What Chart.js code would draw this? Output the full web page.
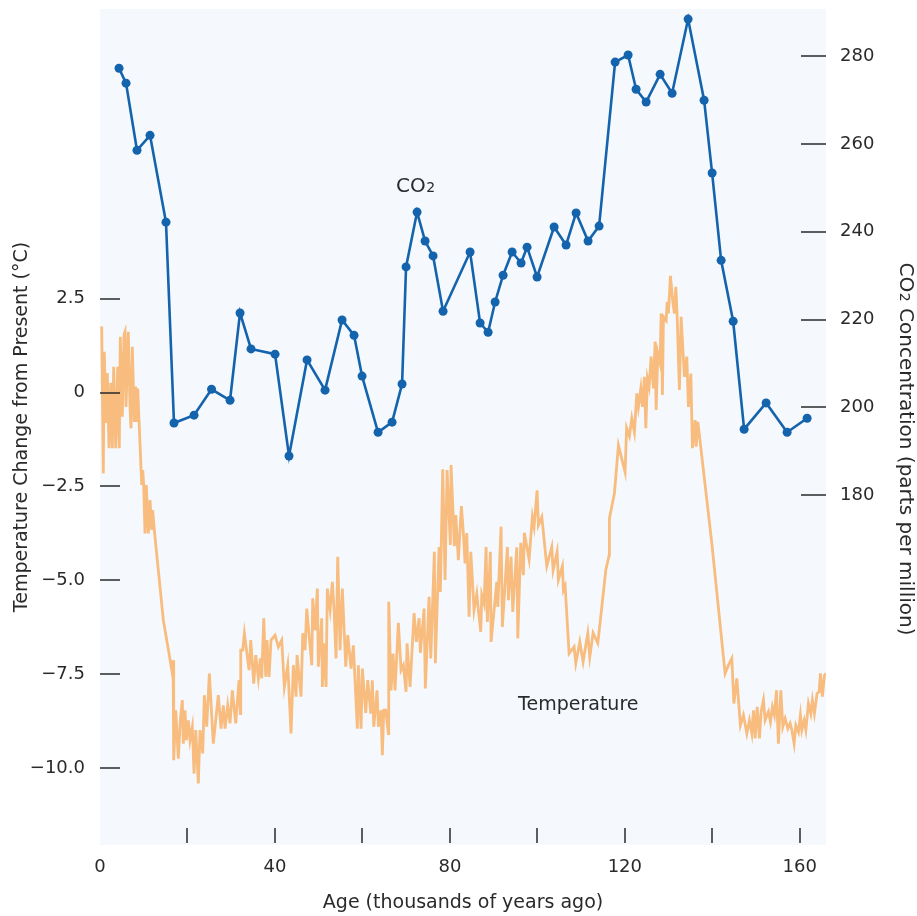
<!DOCTYPE html>
<html>
<head>
<meta charset="utf-8">
<title>Temperature and CO2</title>
<script src="https://cdn.jsdelivr.net/npm/chart.js@4.4.1/dist/chart.umd.min.js"></script>
<style>
  html, body { margin: 0; padding: 0; background: #fff; }
  #wrap { width: 917px; height: 916px; position: relative; }
</style>
</head>
<body>
<div id="wrap"><canvas id="chart"></canvas></div>
<script>
// Temperature and CO2 over the last ~165 thousand years
// - temperature (left axis, °C from present) as a thin orange line
// - CO2 (right axis, ppm) as a blue line with dots

// =========================
// Data
// temperature record: age (kyr ago) and change from present (°C)
const tempAge = [
  0.39, 0.75, 0.98, 1.37, 1.67, 2.06, 2.45, 2.81, 3.13, 3.59, 4.05, 4.41, 4.64, 5.10, 5.49, 5.72, 5.95, 6.47, 6.86, 7.09,
  7.39, 7.84, 8.16, 8.46, 8.62, 9.54, 9.77, 9.99, 10.29, 10.59, 11.05, 11.44, 11.82, 12.05, 12.42, 14.48, 15.78, 16.40, 16.70, 16.85,
  17.31, 17.91, 18.36, 18.82, 19.05, 19.44, 19.74, 20.19, 20.58, 21.11, 21.50, 21.89, 22.48, 22.87, 23.49, 23.85, 24.40, 25.00, 25.91, 27.05,
  27.67, 28.20, 28.59, 29.20, 29.73, 30.26, 31.03, 31.79, 32.09, 32.18, 32.64, 33.01, 34.08, 34.47, 35.15, 35.61, 36.20, 36.66, 36.98, 37.44,
  37.90, 38.19, 38.65, 39.11, 40.02,
  40.78, 41.55, 42.15, 42.93, 43.68, 44.21, 44.83, 45.05, 45.97, 46.36, 46.88, 47.27, 48.42, 48.64, 49.17, 49.70, 49.92, 50.70, 50.84, 51.23,
  51.69, 51.98, 52.60, 53.13, 53.52, 53.97, 54.36, 54.89, 55.41, 56.19, 56.65, 57.40, 57.93, 58.84, 59.07, 59.69, 59.99, 60.76, 61.22, 61.91,
  62.27, 62.59, 63.35, 63.65, 64.26, 64.56, 64.88, 65.34, 65.93, 66.02, 66.55, 67.01, 67.46, 68.22, 68.84, 69.36, 69.98, 70.21, 70.90, 71.81,
  72.34, 72.96, 73.25, 74.10, 74.39, 75.24, 75.63, 76.45, 76.68, 77.53, 77.82, 78.37, 78.90, 79.36, 80.11, 80.27, 81.03, 81.35, 81.94,
  82.63, 83.09, 83.47, 83.86, 84.39, 84.78, 85.53, 86.15, 86.52, 87.06, 87.29, 87.82, 88.28, 88.57, 89.26, 89.42, 90.72, 90.95, 91.70, 92.00,
  93.15, 93.38, 93.99, 94.38, 95.30, 95.53, 96.21, 96.80, 97.03, 98.11, 98.86, 99.25, 99.94, 100.24, 101.02, 102.16, 103.30, 103.60, 104.52, 104.81,
  105.73, 105.96, 106.35, 107.26, 108.40, 108.79, 109.71, 110.46, 111.53, 111.99, 112.75, 113.82, 114.74, 115.65, 116.41, 116.48, 117.62, 118.54, 120.06, 120.41,
  121.05, 121.60, 122.19,
  122.74, 123.11, 123.66, 124.02, 124.48, 124.80, 125.17, 125.56, 126.01, 126.54, 126.93, 127.16, 127.55, 128.07, 128.30, 128.60, 128.83, 129.45, 129.68, 129.97,
  130.43, 130.97, 131.34, 131.66, 131.96, 132.48, 132.87, 133.63, 134.17, 134.54, 135.09, 135.46, 136.08, 136.31, 136.70, 139.90, 142.93, 143.69, 144.47, 144.93,
  145.61, 146.43, 147.12, 147.90, 148.49, 149.04, 149.41, 149.80, 150.26, 150.78, 151.17, 151.70, 152.08, 152.84, 153.30, 153.75, 154.21, 154.67, 155.12, 155.67,
  156.13, 156.66, 157.27, 157.80, 158.19, 158.71, 159.10, 159.70, 160.15, 160.47, 161.00, 161.39, 161.98, 162.53, 162.89, 163.35, 163.97, 164.43, 164.72, 165.18,
  165.64, 166.00
];
const tempChange = [
  1.76, -2.15, 1.09, -0.81, 0.52, -1.48, 0.26, -1.48, 0.69, -1.48, 0.69, -1.48, 1.49, -0.64, 1.54, 1.62, -0.38, 1.62, -0.38, -0.95,
  1.22, -0.78, 0.16, -0.78, 0.11, -2.46, -2.06, -2.46, -3.75, -2.46, -3.75, -2.86, -3.66, -3.13, -3.66, -6.06, -6.95, -7.39, -7.13, -9.79,
  -8.46, -9.75, -8.73, -8.19, -9.35, -8.46, -9.26, -8.73, -9.26, -8.90, -10.15, -8.99, -10.41, -8.99, -9.61, -8.06, -8.90, -7.48, -9.35, -8.06,
  -8.95, -8.33, -8.95, -8.33, -8.81, -7.93, -8.81, -7.66, -8.55, -6.86, -6.86, -6.41, -7.39, -6.59, -7.75, -6.99, -7.61, -7.08, -7.61, -6.01,
  -7.57, -6.59, -7.57, -6.59, -6.46,
  -6.77, -6.59, -7.84, -7.26, -9.08, -7.26, -8.10, -6.99, -8.10, -6.41, -6.86, -5.75, -7.26, -5.48, -6.33, -5.22, -7.30, -6.01, -7.84, -6.68,
  -7.84, -5.22, -5.79, -5.04, -5.79, -7.08, -4.37, -6.86, -5.22, -7.30, -6.46, -7.35, -6.73, -8.95, -7.26, -8.95, -7.35, -8.53, -7.66, -8.55,
  -7.66, -8.90, -7.93, -8.90, -8.46, -9.66, -8.46, -8.46, -9.08, -5.57, -7.93, -6.95, -7.93, -6.13, -7.39, -7.26, -7.97, -6.68, -7.84, -5.87,
  -6.64, -6.01, -6.93, -5.75, -7.88, -5.44, -7.08, -4.24, -7.21, -4.11, -5.31, -2.04, -4.99, -2.06, -4.06, -1.93, -4.09, -3.26, -4.46,
  -3.02, -3.75, -4.55, -3.74, -5.97, -4.24, -5.79, -5.35, -5.79, -6.37, -5.39, -5.62, -4.11, -6.11, -4.24, -6.64, -5.04, -5.71, -3.57, -6.24,
  -4.11, -5.53, -4.37, -5.84, -4.12, -6.55, -4.00, -4.86, -3.73, -4.44, -3.31, -3.57, -2.60, -3.53, -3.31, -4.62, -4.11, -4.73, -4.24, -4.99,
  -4.62, -5.26, -5.15, -6.95, -6.77, -7.21, -6.64, -7.17, -6.41, -7.04, -6.40, -6.67, -5.71, -4.73, -4.33, -3.35, -2.68, -1.40, -2.12, -0.94,
  -1.16, -0.68, -1.05,
  -0.02, -0.38, 0.11, -0.38, 0.42, -0.95, 0.38, 0.16, 0.96, 0.11, 1.36, -0.46, 1.05, 0.78, 2.11, -0.06, 2.02, 1.92, 2.42, 2.11,
  3.11, 2.42, 2.11, 2.82, 2.07, 0.07, 2.02, 0.42, 0.96, -0.38, 0.51, -1.48, -0.73, -1.44, -0.78, -4.02, -7.48, -7.26, -7.08, -8.28,
  -7.61, -8.86, -8.59, -9.08, -8.73, -9.08, -8.46, -9.21, -8.37, -9.21, -8.50, -8.19, -8.73, -8.50, -8.77, -8.37, -8.59, -7.93, -9.35, -7.93,
  -8.90, -8.68, -8.95, -8.81, -8.99, -9.35, -8.86, -9.04, -8.59, -8.99, -8.73, -8.99, -8.28, -8.55, -8.19, -8.55, -8.01, -7.97, -7.48, -8.10,
  -7.53, -7.48
];

// CO2 samples: age (kyr ago) and concentration (ppm)
const co2Age = [
  4.35, 5.95, 8.46, 11.44, 15.09, 16.92, 21.50, 25.50, 29.73, 32.02, 34.53, 40.02, 43.22, 47.34, 51.46, 55.35, 58.09, 59.92, 63.58, 66.78,
  69.07, 69.98, 72.50, 74.33, 76.16, 78.44, 84.62, 86.91, 88.74, 90.34, 92.17, 94.23, 96.28, 97.65, 99.94, 103.83, 106.57, 108.86, 111.60, 114.12,
  117.78, 120.75, 122.58, 124.87, 128.07, 130.81, 134.47, 138.13, 139.96, 142.02, 144.77, 147.28, 152.31, 157.11, 161.68
];
const co2Ppm = [
  277.3, 273.9, 258.6, 262.0, 242.2, 196.4, 198.2, 204.1, 201.6, 221.5, 213.3, 212.1, 188.9, 210.8, 203.9, 219.9, 216.4, 207.1, 194.3, 196.6,
  205.3, 232.0, 244.5, 237.9, 234.5, 221.9, 235.4, 219.2, 217.1, 224.0, 230.1, 235.4, 232.9, 236.5, 229.7, 241.1, 237.0, 244.3, 237.9, 241.3,
  278.7, 280.3, 272.5, 269.6, 275.9, 271.6, 288.5, 270.0, 253.4, 233.5, 219.6, 195.0, 201.0, 194.3, 197.5
];

// axis ticks
const ageTicks = [0, 20, 40, 60, 80, 100, 120, 140, 160];
const tempTicks = [-10, -7.5, -5, -2.5, 0, 2.5];
const co2Ticks = [180, 200, 220, 240, 260, 280];

// in-plot labels, anchored in data units
const co2Label = { age: 67.7, ppm: 249.0 };
const tempLabel = { age: 95.6, temp: -8.46 };

// =========================
// Style
const FONT = "'DejaVu Sans', 'Liberation Sans', Arial, sans-serif";
const BG = '#f5f9fd';
const BLUE = '#1463ad';
const ORANGE = '#f7bc7e';
const INK = '#2a2a2a';

Chart.defaults.font.family = FONT;
Chart.defaults.color = INK;

const toPoints = (xs, ys) => xs.map((x, i) => ({ x, y: ys[i] }));
const setTicks = list => scale => { scale.ticks = list.map(v => ({ value: v })); };
// fixed box sizes so the plot area sits where the reference has it
const fixBox = (w, h) => scale => {
  if(w !== null) scale.width = w;
  if(h !== null) scale.height = h;
  scale.paddingTop = 0; scale.paddingBottom = 0;
  scale.paddingLeft = 0; scale.paddingRight = 0;
};
const fmtTemp = v => v === 0 ? '0' : (v < 0 ? '\u2212' : '') + Math.abs(v).toFixed(1);

// writes "CO" + small "2" + rest, starting at x (baseline y)
function drawCO2Text(ctx, x, y, size, rest){
  ctx.font = `${size}px ${FONT}`;
  ctx.fillText('CO', x, y);
  let w = ctx.measureText('CO').width;
  ctx.font = `${Math.round(size * 0.7)}px ${FONT}`;
  ctx.fillText('2', x + w + 0.5, y);
  w += ctx.measureText('2').width + 0.5;
  if(rest){
    ctx.font = `${size}px ${FONT}`;
    ctx.fillText(rest, x + w, y);
    w += ctx.measureText(rest).width;
  }
  return w;
}
function widthCO2Text(ctx, size, rest){
  ctx.font = `${size}px ${FONT}`;
  let w = ctx.measureText('CO').width + (rest ? ctx.measureText(rest).width : 0);
  ctx.font = `${Math.round(size * 0.7)}px ${FONT}`;
  return w + ctx.measureText('2').width + 0.5;
}

// background, inner tick marks, in-plot labels, right axis title
const decor = {
  id: 'decor',
  beforeDraw(chart){
    const { ctx, chartArea: a } = chart;
    ctx.save();
    ctx.fillStyle = BG;
    ctx.fillRect(a.left, a.top, a.right - a.left, a.bottom - a.top);
    ctx.restore();
  },
  afterDatasetsDraw(chart){
    const { ctx, chartArea: a, scales } = chart;
    ctx.save();
    ctx.strokeStyle = '#2a2a2a';
    ctx.lineWidth = 1.5;
    ctx.beginPath();
    scales.x.ticks.forEach(t => {
      if(t.value <= scales.x.min) return;
      const px = Math.round(scales.x.getPixelForValue(t.value));
      ctx.moveTo(px, a.bottom - 17);
      ctx.lineTo(px, a.bottom - 2);
    });
    scales.yT.ticks.forEach(t => {
      const py = Math.round(scales.yT.getPixelForValue(t.value));
      ctx.moveTo(a.left, py);
      ctx.lineTo(a.left + 20, py);
    });
    scales.yC.ticks.forEach(t => {
      const py = Math.round(scales.yC.getPixelForValue(t.value));
      ctx.moveTo(a.right - 25, py);
      ctx.lineTo(a.right, py);
    });
    ctx.stroke();

    // series labels
    ctx.fillStyle = INK;
    ctx.textBaseline = 'alphabetic';
    ctx.textAlign = 'left';
    drawCO2Text(ctx, scales.x.getPixelForValue(co2Label.age), scales.yC.getPixelForValue(co2Label.ppm), 20);
    ctx.font = `19px ${FONT}`;
    ctx.fillText('Temperature', scales.x.getPixelForValue(tempLabel.age), scales.yT.getPixelForValue(tempLabel.temp));

    // right axis title, rotated clockwise
    const rest = ' Concentration (parts per million)';
    const w = widthCO2Text(ctx, 20, rest);
    ctx.translate(900, 449);
    ctx.rotate(Math.PI / 2);
    drawCO2Text(ctx, -w / 2, 0, 20, rest);
    ctx.restore();
  }
};

// =========================
// Chart
const ctx = document.getElementById('chart').getContext('2d');
const chart = new Chart(ctx, {
  type: 'line',
  data: {
    datasets: [
      {
        label: 'CO2',
        data: toPoints(co2Age, co2Ppm),
        yAxisID: 'yC',
        borderColor: BLUE,
        backgroundColor: BLUE,
        borderWidth: 2.6,
        pointRadius: 4.5,
        pointHoverRadius: 4.5,
        pointBorderWidth: 0,
        tension: 0
      },
      {
        label: 'Temperature',
        data: toPoints(tempAge, tempChange),
        yAxisID: 'yT',
        borderColor: ORANGE,
        borderWidth: 2.8,
        pointRadius: 0,
        tension: 0
      }
    ]
  },
  options: {
    responsive: true,
    maintainAspectRatio: false,
    animation: false,
    devicePixelRatio: 1,
    layout: { padding: { top: 9, left: 0, right: 0, bottom: 0 } },
    plugins: { legend: { display: false }, tooltip: { enabled: false } },
    scales: {
      x: {
        type: 'linear',
        position: 'bottom',
        min: 0,
        max: 166,
        afterBuildTicks: setTicks(ageTicks),
        afterFit: fixBox(null, 71),
        grid: { display: false, drawTicks: false },
        border: { display: false },
        ticks: {
          autoSkip: false,
          maxRotation: 0,
          padding: 12,
          font: { size: 18 },
          color: INK,
          callback: v => v % 40 === 0 ? String(v) : ''
        },
        title: {
          display: true,
          text: 'Age (thousands of years ago)',
          font: { size: 19 },
          color: INK,
          padding: { top: 0, bottom: 2 }
        }
      },
      yT: {
        type: 'linear',
        position: 'left',
        min: -12.05,
        max: 10.22,
        afterBuildTicks: setTicks(tempTicks),
        afterFit: fixBox(100, null),
        grid: { display: false, drawTicks: false },
        border: { display: false },
        ticks: { padding: 15, font: { size: 18 }, color: INK, callback: fmtTemp },
        title: {
          display: true,
          text: 'Temperature Change from Present (\u00B0C)',
          font: { size: 19 },
          color: INK,
          padding: { top: 11, bottom: 0 }
        }
      },
      yC: {
        type: 'linear',
        position: 'right',
        min: 100.2,
        max: 290.8,
        afterBuildTicks: setTicks(co2Ticks),
        afterFit: fixBox(91, null),
        grid: { display: false, drawTicks: false },
        border: { display: false },
        ticks: { padding: 14, font: { size: 18 }, color: INK }
      }
    }
  },
  plugins: [decor]
});
</script>
</body>
</html>
